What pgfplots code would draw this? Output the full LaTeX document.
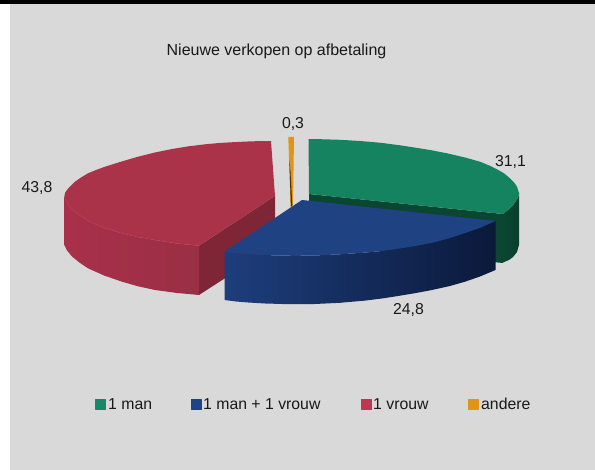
\documentclass[border=0pt]{standalone}
\usepackage{pgfplots}
\pgfplotsset{compat=1.18}
\usepackage{fontspec}
\setmainfont{Liberation Sans}
\definecolor{bg}{HTML}{D9D9D9}
\definecolor{gtop}{HTML}{168360}
\definecolor{gdark}{HTML}{0A4631}
\definecolor{btop}{HTML}{1F4282}
\definecolor{bl}{HTML}{1D3E7C}
\definecolor{bm}{HTML}{11234E}
\definecolor{br}{HTML}{0B193A}
\definecolor{rtop}{HTML}{AB3349}
\definecolor{redge}{HTML}{B93B56}
\definecolor{rside}{HTML}{A8304A}
\definecolor{rside2}{HTML}{9A2F44}
\definecolor{rdark}{HTML}{7E2536}
\definecolor{otop}{HTML}{E09418}
\definecolor{odark}{HTML}{4F3208}
\definecolor{lgreen}{HTML}{17896A}
\definecolor{lblue}{HTML}{1F4289}
\definecolor{lred}{HTML}{BE3650}
\begin{document}
\begin{tikzpicture}
\begin{axis}[
  scale only axis, width=595pt, height=470pt,
  xmin=0, xmax=595, ymin=0, ymax=470, y dir=reverse,
  hide axis, clip=true,
  every axis plot/.append style={line join=round},
]
% page
\addplot[fill=white, draw=none] coordinates {(0,0)(595,0)(595,470)(0,470)} --cycle;
\addplot[fill=bg, draw=none] coordinates {(9.5,0)(595,0)(595,470)(9.5,470)} --cycle;
\addplot[fill=black, draw=none] coordinates {(0,0)(595,0)(595,3.6)(0,3.6)} --cycle;
% red (1 vrouw, 43.8)
\addplot[fill=rdark, draw=none] coordinates {(199,245.7)(275,196)(275,246)(199,295)} --cycle;
\addplot[left color=rside, right color=rside2, draw=none] coordinates {
 (64.3,196.7)(68,205)(75,212)(88,221)(104,227.8)(122,233.3)(138,237)(155,240)(177,243.5)(199,245.7)
 (199,295)(177,293)(155,290)(138,286.3)(122,281.7)(104,275.5)(88,268.3)(80,263)(72,256.5)(67,250.5)(64.3,245)} --cycle;
\addplot[fill=rtop, draw=none] coordinates {
 (271,141)(252,141.3)(233,142.2)(219,143)(205,144.3)(188,146.4)(172,149)(155,152.5)(138,156.7)(120,162)(105,166.7)(96,170)(88,173.3)(81,177.5)(75,181.7)(70,186.5)(67,190)(65,193)(64.3,196.7)
 (68,205)(75,212)(88,221)(104,227.8)(122,233.3)(138,237)(155,240)(177,243.5)(199,245.7)(275,196)} --cycle;
\addplot[draw=redge, line width=0.5pt] coordinates {(64.3,196.7)(68,205)(75,212)(88,221)(104,227.8)(122,233.3)(138,237)(155,240)(177,243.5)(199,245.7)};
% orange (andere, 0.3)
\addplot[fill=otop, draw=none] coordinates {(288.3,137)(294,137)(293,205)(290.7,208)} --cycle;
\addplot[fill=odark, draw=none] coordinates {(289.3,160)(290.5,172)(292.3,205)(290.9,207)} --cycle;
% green (1 man, 31.1)
\addplot[fill=gdark, draw=none] coordinates {(309,194)(503,214)(503,263)(309,244)} --cycle;
\addplot[left color=gdark, right color=gdark!90!black, draw=none] coordinates {
 (519,193)(518,198)(513,205)(508,210)(503,214)(503,262.5)(509,260)(513,257)(517,252)(519,245)} --cycle;
\addplot[fill=gtop, draw=none] coordinates {
 (308.5,139)(320,139.2)(340,139.8)(360,141)(380,142.7)(400,145.3)(413,147.3)(430,150)(447,153.3)(465,157.5)(480,161.7)(490,165.8)(497,169.3)(504,173.3)(510,178.3)(514,182.3)(517,186.7)(519,193)
 (518,198)(513,205)(508,210)(503,214)(309,194)} --cycle;
% blue (1 man + 1 vrouw, 24.8)
\addplot[left color=bl, middle color=bm, right color=br, draw=none] coordinates {
 (224.5,251.5)(236,253)(248,254)(265,255)(282,255.7)(298,255.8)(315,255.5)(340,254.3)(365,252.6)(382,251)(398,248.7)(415,246)(432,242.8)(450,238)(465,233)(480,227.8)(495.5,221)
 (495.5,270)(480,276.5)(465,281.7)(450,286)(432,290)(415,293.2)(398,296)(382,298.5)(365,300.6)(340,302.8)(315,304)(298,304.2)(282,304)(265,303.5)(248,302.5)(236,301.5)(224.5,300)} --cycle;
\addplot[fill=btop, draw=none] coordinates {
 (302,200)(495.5,221)(480,227.8)(465,233)(450,238)(432,242.8)(415,246)(398,248.7)(382,251)(365,252.6)(340,254.3)(315,255.5)(298,255.8)(282,255.7)(265,255)(248,254)(236,253)(224.5,251.5)} --cycle;
% legend
\addplot[only marks, mark=square*, mark size=5pt, mark options={fill=lgreen, draw=lgreen}] coordinates {(100,403.8)};
\addplot[only marks, mark=square*, mark size=5pt, mark options={fill=lblue, draw=lblue}] coordinates {(196,403.8)};
\addplot[only marks, mark=square*, mark size=5pt, mark options={fill=lred, draw=lred}] coordinates {(366,403.8)};
\addplot[only marks, mark=square*, mark size=5pt, mark options={fill=otop, draw=otop}] coordinates {(473,403.8)};
\tikzset{lab/.style={inner sep=0pt, text=black!90, font=\fontsize{15.8}{18}\selectfont}}
\node[lab, anchor=base west] at (axis cs:108,410) {1 man};
\node[lab, anchor=base west] at (axis cs:203,410) {1 man + 1 vrouw};
\node[lab, anchor=base west] at (axis cs:373,410) {1 vrouw};
\node[lab, anchor=base west] at (axis cs:481,410) {andere};
\node[lab, anchor=base, font=\fontsize{16}{18}\selectfont] at (axis cs:276.5,56) {Nieuwe verkopen op afbetaling};
\node[lab, anchor=base] at (axis cs:293,128.5) {0,3};
\node[lab, anchor=base] at (axis cs:510.5,166.5) {31,1};
\node[lab, anchor=base] at (axis cs:408.5,314.5) {24,8};
\node[lab, anchor=base] at (axis cs:37,192.5) {43,8};
\end{axis}
\end{tikzpicture}
\end{document}
